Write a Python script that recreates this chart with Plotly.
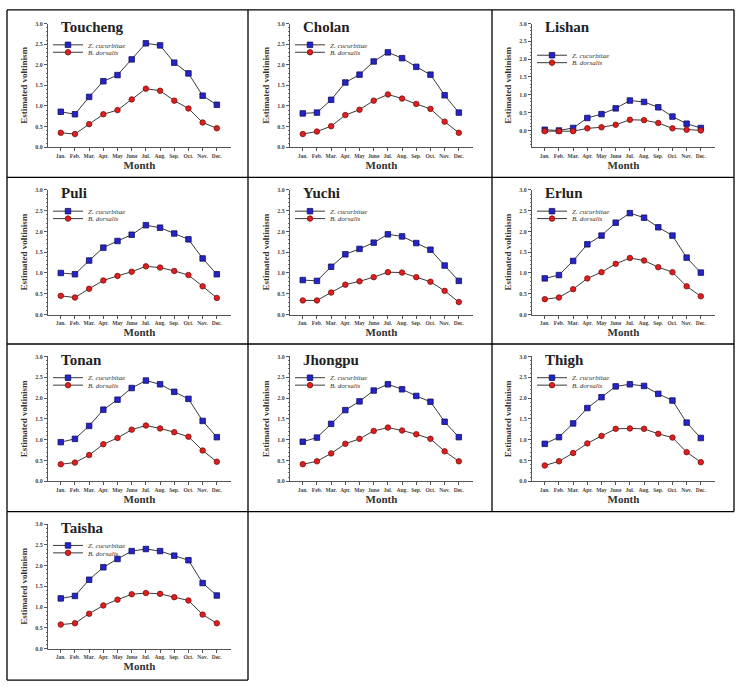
import plotly.graph_objects as go

# ---------------- data ----------------
months = ["Jan.", "Feb.", "Mar.", "Apr.", "May", "June", "Jul.", "Aug.", "Sep.", "Oct.", "Nov.", "Dec."]
month_num = [1, 2, 3, 4, 5, 6, 7, 8, 9, 10, 11, 12]
sites = ["Toucheng", "Cholan", "Lishan", "Puli", "Yuchi", "Erlun", "Tonan", "Jhongpu", "Thigh", "Taisha"]
series_names = ["Z. cucurbitae", "B. dorsalis"]

zc_toucheng = [0.86, 0.80, 1.22, 1.60, 1.75, 2.13, 2.52, 2.47, 2.05, 1.79, 1.25, 1.03]
bd_toucheng = [0.35, 0.32, 0.56, 0.80, 0.90, 1.16, 1.42, 1.37, 1.13, 0.94, 0.60, 0.46]
zc_cholan = [0.82, 0.84, 1.15, 1.57, 1.76, 2.08, 2.30, 2.16, 1.95, 1.76, 1.26, 0.84]
bd_cholan = [0.32, 0.38, 0.51, 0.78, 0.91, 1.13, 1.28, 1.18, 1.05, 0.93, 0.62, 0.35]
zc_lishan = [0.02, 0.00, 0.07, 0.35, 0.46, 0.62, 0.84, 0.80, 0.65, 0.39, 0.19, 0.07]
bd_lishan = [-0.02, -0.02, -0.02, 0.06, 0.09, 0.16, 0.30, 0.29, 0.21, 0.06, 0.02, 0.00]
zc_puli = [1.00, 0.97, 1.30, 1.61, 1.77, 1.92, 2.15, 2.09, 1.95, 1.81, 1.35, 0.97]
bd_puli = [0.45, 0.41, 0.62, 0.82, 0.93, 1.03, 1.16, 1.13, 1.05, 0.95, 0.68, 0.40]
zc_yuchi = [0.83, 0.81, 1.15, 1.45, 1.58, 1.73, 1.93, 1.88, 1.72, 1.56, 1.18, 0.81]
bd_yuchi = [0.34, 0.34, 0.53, 0.72, 0.80, 0.90, 1.02, 1.01, 0.90, 0.79, 0.57, 0.30]
zc_erlun = [0.87, 0.95, 1.29, 1.69, 1.90, 2.21, 2.44, 2.33, 2.10, 1.90, 1.37, 1.01]
bd_erlun = [0.37, 0.41, 0.61, 0.87, 1.02, 1.22, 1.36, 1.30, 1.14, 1.02, 0.68, 0.44]
zc_tonan = [0.94, 1.02, 1.33, 1.72, 1.96, 2.24, 2.42, 2.33, 2.15, 1.98, 1.45, 1.06]
bd_tonan = [0.41, 0.45, 0.63, 0.89, 1.04, 1.24, 1.34, 1.27, 1.18, 1.07, 0.74, 0.47]
zc_jhongpu = [0.95, 1.05, 1.38, 1.71, 1.92, 2.18, 2.33, 2.21, 2.05, 1.91, 1.43, 1.06]
bd_jhongpu = [0.41, 0.48, 0.67, 0.90, 1.02, 1.21, 1.29, 1.22, 1.13, 1.02, 0.72, 0.48]
zc_thigh = [0.90, 1.06, 1.39, 1.76, 2.02, 2.28, 2.33, 2.29, 2.10, 1.94, 1.41, 1.04]
bd_thigh = [0.38, 0.48, 0.68, 0.91, 1.09, 1.26, 1.27, 1.26, 1.14, 1.05, 0.70, 0.46]
zc_taisha = [1.21, 1.27, 1.66, 1.96, 2.16, 2.35, 2.40, 2.35, 2.24, 2.13, 1.58, 1.28]
bd_taisha = [0.58, 0.61, 0.84, 1.04, 1.18, 1.31, 1.34, 1.32, 1.24, 1.16, 0.82, 0.61]

zc_all = [zc_toucheng, zc_cholan, zc_lishan, zc_puli, zc_yuchi, zc_erlun,
          zc_tonan, zc_jhongpu, zc_thigh, zc_taisha]
bd_all = [bd_toucheng, bd_cholan, bd_lishan, bd_puli, bd_yuchi, bd_erlun,
          bd_tonan, bd_jhongpu, bd_thigh, bd_taisha]
y_ticks = [0.0, 0.5, 1.0, 1.5, 2.0, 2.5, 3.0]
y_ticktext = ["0.0", "0.5", "1.0", "1.5", "2.0", "2.5", "3.0"]

# ---------------- layout geometry (pixels) ----------------
W, H = 740, 689
col_x = [(48, 231), (290, 473), (532, 715)]
row_y = [(20.7, 145.5), (188.5, 314.3), (356.5, 482.5), (525.7, 651.3)]
y_ranges = {2: [-0.47, 3.0]}
legend_dy = {2: 32}
SERIF = "Liberation Serif"

fig = go.Figure()
layout = dict(
    width=W, height=H, margin=dict(l=0, r=0, t=0, b=0),
    paper_bgcolor="white", plot_bgcolor="white", showlegend=True,
    font=dict(family=SERIF, color="#333333"),
)
annotations = []
shapes = []

for i, site in enumerate(sites):
    r, c = divmod(i, 3)
    n = i + 1
    xs = "" if n == 1 else str(n)
    x0, x1 = col_x[c]
    yt, yb = row_y[r]
    lg_b = "legend" if 2 * i + 1 == 1 else f"legend{2 * i + 1}"
    lg_r = f"legend{2 * i + 2}"

    fig.add_trace(go.Scatter(
        x=month_num, y=zc_all[i], mode="lines+markers", name=series_names[0],
        xaxis=f"x{xs}", yaxis=f"y{xs}", legend=lg_b, cliponaxis=False,
        line=dict(color="#3a3a3a", width=1),
        marker=dict(symbol="square", size=5.5, color="#2424c8",
                    line=dict(color="#12125e", width=0.8)),
    ))
    fig.add_trace(go.Scatter(
        x=month_num, y=bd_all[i], mode="lines+markers", name=series_names[1],
        xaxis=f"x{xs}", yaxis=f"y{xs}", legend=lg_r, cliponaxis=False,
        line=dict(color="#3a3a3a", width=1),
        marker=dict(symbol="circle", size=5.5, color="#e01e1e",
                    line=dict(color="#7a1010", width=0.8)),
    ))

    layout[f"xaxis{xs}"] = dict(
        domain=[x0 / W, x1 / W], anchor=f"y{xs}", range=[0.1, 13.0],
        tickmode="array", tickvals=month_num, ticktext=months, tickangle=0,
        ticks="outside", ticklen=3, tickwidth=1, tickcolor="#555",
        showline=True, linecolor="#555", linewidth=1, showgrid=False, zeroline=False,
        tickfont=dict(family=SERIF, size=5.5, color="#444", weight="bold"),
        title=dict(text="Month", standoff=2,
                   font=dict(family=SERIF, size=11, color="#333", weight="bold")),
    )
    layout[f"yaxis{xs}"] = dict(
        domain=[1 - yb / H, 1 - yt / H], anchor=f"x{xs}",
        range=y_ranges.get(i, [0.0, 3.0]),
        tickmode="array", tickvals=y_ticks, ticktext=y_ticktext,
        ticks="outside", ticklen=3, tickwidth=1, tickcolor="#555",
        minor=dict(ticks="outside", ticklen=1.5, dtick=0.1, tickcolor="#777", showgrid=False),
        showline=True, linecolor="#555", linewidth=1, showgrid=False, zeroline=False,
        tickfont=dict(family=SERIF, size=6, color="#444", weight="bold"),
        title=dict(text="Estimated voltinism", standoff=6,
                   font=dict(family=SERIF, size=9, color="#333", weight="bold")),
    )

    # panel title
    annotations.append(dict(
        text=f"<b>{site}</b>", xref="paper", yref="paper",
        x=(x0 + 11) / W, y=1 - (yt + 3.5) / H, xanchor="left", yanchor="middle",
        showarrow=False, font=dict(family=SERIF, size=15, color="#222"),
    ))

    # legends (one per series so that spacing matches)
    dy = legend_dy.get(i, 21.5)
    for k, lg in enumerate([lg_b, lg_r]):
        layout[lg] = dict(
            x=(x0 + 0) / W, y=1 - (yt + dy + 7.5 * k) / H,
            xanchor="left", yanchor="middle", bgcolor="rgba(0,0,0,0)",
            borderwidth=0, itemwidth=30, tracegroupgap=0,
            font=dict(family=SERIF, size=7, color="#333", style="italic"),
        )

# table borders
vx = [7, 248, 492, 734]
hy = [7, 176, 344, 513]
for x in vx:
    shapes.append(dict(type="line", xref="paper", yref="paper",
                       x0=x / W, x1=x / W, y0=1 - 7 / H, y1=1 - 513 / H,
                       line=dict(color="black", width=1.3)))
for y in hy:
    shapes.append(dict(type="line", xref="paper", yref="paper",
                       x0=7 / W, x1=734 / W, y0=1 - y / H, y1=1 - y / H,
                       line=dict(color="black", width=1.3)))
for x in [7, 248]:
    shapes.append(dict(type="line", xref="paper", yref="paper",
                       x0=x / W, x1=x / W, y0=1 - 513 / H, y1=1 - 683 / H,
                       line=dict(color="black", width=1.3)))
shapes.append(dict(type="line", xref="paper", yref="paper",
                   x0=7 / W, x1=248 / W, y0=1 - 683 / H, y1=1 - 683 / H,
                   line=dict(color="black", width=1.3)))

layout["annotations"] = annotations
layout["shapes"] = shapes
fig.update_layout(**layout)
fig.write_html(
    "out.html",
    config={"displayModeBar": False},
    post_script="document.body.style.margin='0';document.body.style.padding='0';"
                "document.body.style.overflow='hidden';",
)
